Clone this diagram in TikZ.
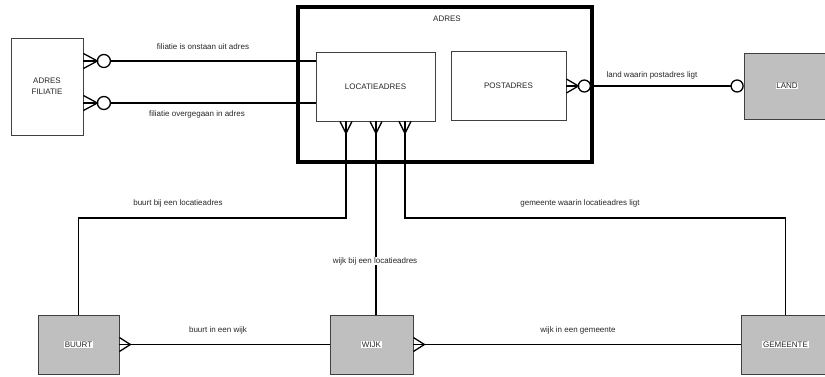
\documentclass[tikz,border=0pt]{standalone}
\usepackage{fontspec}
\setmainfont{Liberation Sans}
\usetikzlibrary{calc}
\begin{document}
\begin{tikzpicture}[x=1pt,y=-1pt,
  every node/.style={font=\fontsize{8}{9.6}\selectfont, text=black!85},
  ent/.style={draw=black!75, line width=0.8pt, rectangle, inner sep=0pt, align=center},
  gent/.style={ent, fill=black!25},
  conn/.style={draw=black, line width=1.3pt},
  lbl/.style={inner sep=0.5pt},
  wlbl/.style={fill=white, inner sep=0.6pt}
]
\useasboundingbox (0,0) rectangle (825,376);
% helper coordinates
\coordinate (y61) at (0,61);
\coordinate (y103) at (0,103);
\coordinate (h) at (0,218);
\coordinate (a1) at (346,0);
\coordinate (a2) at (376,0);
\coordinate (a3) at (405,0);

% entities
\node[ent, draw=black, minimum width=294pt, minimum height=155pt, line width=4pt] (adres) at (445,84.5) {};
\node[lbl] (adreslbl) at (447,19) {ADRES};
\node[ent, minimum width=72pt, minimum height=97pt] (fil) at (47,86.5) {ADRES\\[1pt]FILIATIE};
\node[ent, minimum width=119pt, minimum height=69pt] (loc) at (375.5,86.5) {LOCATIEADRES};
\node[ent, minimum width=115pt, minimum height=69pt] (post) at (508.5,86) {POSTADRES};
\node[gent, minimum width=86pt, minimum height=66pt] (land) at (787,86) {\fboxsep=0.6pt\colorbox{white}{LAND}};
\node[gent, minimum width=81pt, minimum height=59pt] (buurt) at (78.5,344.5) {\fboxsep=0.6pt\colorbox{white}{BUURT}};
\node[gent, minimum width=83pt, minimum height=59pt] (wijk) at (371.5,344.5) {\fboxsep=0.6pt\colorbox{white}{WIJK}};
\node[gent, minimum width=89pt, minimum height=59pt] (gem) at (785.5,344.5) {\fboxsep=0.6pt\colorbox{white}{GEMEENTE}};

% filiatie -> locatieadres (two relations)
\foreach \yy in {y61,y103}{
  \coordinate (P) at (fil.east |- \yy);
  \draw[conn] ($(P)+(0,-7.5)$) -- ($(P)+(14,0)$) -- ($(P)+(0,7.5)$);
  \draw[conn] (P) -- ($(P)+(14,0)$);
  \draw[conn] ($(P)+(20.5,0)$) circle[radius=6.5pt];
  \draw[conn] ($(P)+(27,0)$) -- (loc.west |- \yy);
}
\node[lbl] (t1) at (203,47) {filiatie is onstaan uit adres};
\node[lbl] (t2) at (197,114) {filiatie overgegaan in adres};

% postadres -> land
\coordinate (Q) at (post.east);
\draw[conn] ($(Q)+(0,-7)$) -- ($(Q)+(12,0)$) -- ($(Q)+(0,7)$);
\draw[conn] (Q) -- ($(Q)+(12,0)$);
\draw[conn] ($(Q)+(18,0)$) circle[radius=6pt];
\draw[conn] ($(land.west)+(-6.5,0)$) circle[radius=6pt];
\draw[conn] ($(Q)+(24,0)$) -- ($(land.west)+(-12.5,0)$);
\node[lbl] (t3) at (652,75) {land waarin postadres ligt};

% crow feet under locatieadres
\foreach \c in {a1,a2,a3}{
  \coordinate (R) at (loc.south -| \c);
  \draw[conn] ($(R)+(-6,0)$) -- ($(R)+(0,12)$) -- ($(R)+(6,0)$);
}
\draw[conn] (loc.south -| a1) |- (buurt.north |- h) -- (buurt.north);
\draw[conn] (loc.south -| a2) -- (wijk.north -| a2);
\draw[conn] (loc.south -| a3) |- (gem.north |- h) -- (gem.north);
\node[lbl] (t4) at (178,203) {buurt bij een locatieadres};
\node[wlbl] (t5) at (375,261) {wijk bij een locatieadres};
\node[lbl] (t6) at (580,203) {gemeente waarin locatieadres ligt};

% buurt -> wijk, wijk -> gemeente
\foreach \s/\t in {buurt/wijk, wijk/gem}{
  \coordinate (S) at (\s.east);
  \draw[conn] ($(S)+(0,-7)$) -- ($(S)+(11,0)$) -- ($(S)+(0,7)$);
  \draw[conn] (S) -- (\t.west);
}
\node[lbl] (t7) at (218,330) {buurt in een wijk};
\node[lbl] (t8) at (578,330) {wijk in een gemeente};
\end{tikzpicture}
\end{document}
